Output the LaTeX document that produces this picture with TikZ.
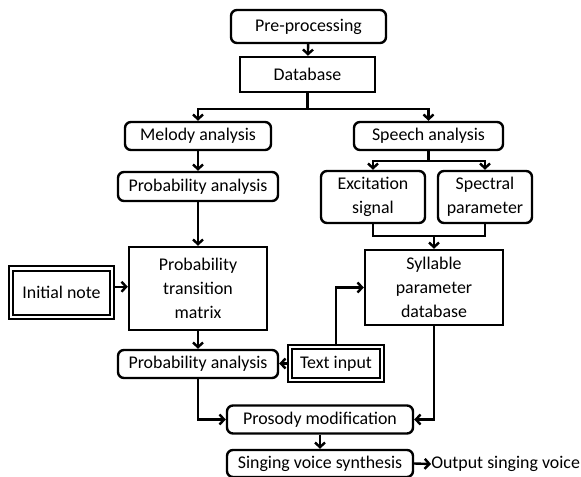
\documentclass[tikz,border=0pt]{standalone}
\usepackage{fontspec}
\setmainfont{Carlito}
\usetikzlibrary{arrows.meta}
\begin{document}
\begin{tikzpicture}[x=0.75pt,y=-0.75pt,
 sz/.style 2 args={minimum width=#1*0.75pt, minimum height=#2*0.75pt},
 box/.style={draw,line width=1.8pt,inner sep=0pt,align=center,font=\fontsize{13.4}{18}\selectfont},
 rbox/.style={box,rounded corners=4.5pt},
 dbox/.style={box,double,double distance=2.2pt,line width=1.5pt},
 arr/.style={line width=1.8pt,-{Straight Barb[length=3.5pt,width=7.5pt]}},
 ln/.style={line width=1.8pt}]
\path[use as bounding box] (0,0) rectangle (581,477);

\node[rbox,sz={155}{33}] (pre) at (308.5,26.5) {Pre-processing};
\node[box,sz={135}{35}] (db) at (307.5,74.5) {Database};
\node[rbox,sz={146}{28}] (mel) at (198,136) {Melody analysis};
\node[rbox,sz={149}{28}] (sp) at (428.5,136) {Speech analysis};
\node[rbox,sz={160}{29}] (prob1) at (198,186.5) {Probability analysis};
\node[rbox,sz={104}{52}] (exc) at (373,197) {Excitation\\signal};
\node[rbox,sz={94}{52}] (spec) at (485,197) {Spectral\\parameter};
\node[box,sz={138}{75}] (syl) at (434,287.5) {Syllable\\parameter\\database};
\node[box,sz={138}{83}] (ptm) at (198,288.5) {Probability\\transition\\matrix};
\node[dbox,sz={101}{48.5}] (init) at (61.5,292.75) {Initial note};
\node[rbox,sz={160}{28}] (prob2) at (198,364) {Probability analysis};
\node[dbox,sz={92}{33}] (txt) at (336,363.5) {Text input};
\node[rbox,sz={186}{28}] (pros) at (320,419.5) {Prosody modification};
\node[rbox,sz={186}{27}] (sing) at (320,463.5) {Singing voice synthesis};
\node[inner sep=0pt,anchor=west,font=\fontsize{13.4}{18}\selectfont] (out) at (431,464) {Output singing voice};

\draw[arr] (pre) -- (db);
\draw[ln] (db.south) -- ++(0,16) coordinate (b1);
\draw[arr] (b1) -| (mel.north);
\draw[arr] (b1) -| (sp.north);
\draw[ln] (sp.south) -- ++(0,10) coordinate (b2);
\draw[arr] (b2) -| (exc.north);
\draw[arr] (b2) -| (spec.north);
\draw[ln] (exc.south) -- ++(0,12) coordinate (m) -| (spec.south);
\draw[arr] (syl.north |- m) -- (syl.north);
\draw[arr] (mel) -- (prob1);
\draw[arr] (prob1) -- (ptm);
\draw[arr] ([yshift=4.5pt]init.east) -- ([yshift=4.5pt]init.east -| ptm.west);
\draw[arr] (ptm) -- (prob2);
\draw[arr] (txt.west) -- (txt.west -| prob2.east);
\draw[arr] (txt.north) |- (syl.west);
\draw[arr] (prob2.south) |- (pros.west);
\draw[arr] (syl.south) |- (pros.east);
\draw[arr] (pros) -- (sing);
\draw[arr] (sing.east) -- (out.west);
\end{tikzpicture}
\end{document}
